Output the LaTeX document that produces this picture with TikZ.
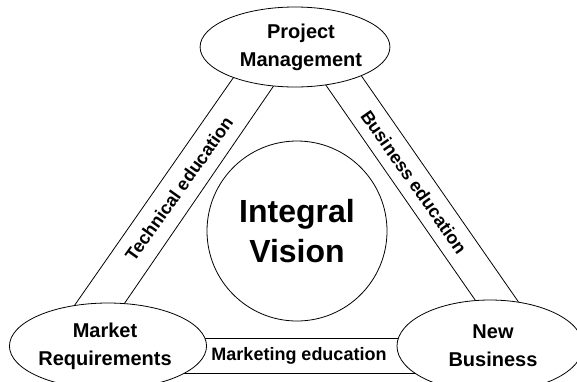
\documentclass[tikz,border=0pt]{standalone}
\usepackage{fontspec}
\setmainfont{Liberation Sans}
\usetikzlibrary{shapes.geometric}
\begin{document}
\begin{tikzpicture}[x=1pt,y=-1pt,
  oval/.style={draw,ellipse,fill=white,line width=0.8pt,inner sep=0pt,align=center,
    font=\bfseries\fontsize{20}{28}\selectfont},
  hub/.style={draw,circle,fill=white,line width=0.8pt,inner sep=0pt,align=center,
    minimum size=180pt,font=\bfseries\fontsize{32}{40}\selectfont},
  band/.style={line width=0.8pt},
  lab/.style={inner sep=0pt,font=\bfseries\fontsize{18}{20}\selectfont}]
\useasboundingbox[fill=white] (0,0) rectangle (577,381);
% band end points
\coordinate (lo1) at (238,71);   \coordinate (lo2) at (72,309);
\coordinate (li1) at (277,81);   \coordinate (li2) at (122,307);
\coordinate (ri1) at (323,81);   \coordinate (ri2) at (480,307);
\coordinate (ro1) at (358,71);   \coordinate (ro2) at (522,307);
\coordinate (bt1) at (180,338);  \coordinate (bt2) at (420,338);
\coordinate (bb1) at (160,373);  \coordinate (bb2) at (440,373);
\draw[band] (lo1) -- (lo2);
\draw[band] (li1) -- (li2);
\draw[band] (ri1) -- (ri2);
\draw[band] (ro1) -- (ro2);
\draw[band] (bt1) -- (bt2);
\draw[band] (bb1) -- (bb2);
% nodes
\node[oval,minimum width=166pt,minimum height=80pt] (pm) at (295,47)
  {\hspace*{12pt}Project\\\hspace*{12pt}Management};
\node[oval,minimum width=192pt,minimum height=86pt] (mr) at (108,346)
  {Market\hspace*{6pt}\\Requirements\hspace*{6pt}};
\node[oval,minimum width=186pt,minimum height=92pt] (nb) at (490,346)
  {\hspace*{6pt}New\\\hspace*{6pt}Business};
\node[hub] (iv) at (297,231) {Integral\\Vision};
% labels
\node[lab,rotate=54.5] (te) at (179,189) {Technical education};
\node[lab,rotate=-55] (be) at (414,182) {Business education};
\node[lab] (me) at (299,356) {Marketing education};
\end{tikzpicture}
\end{document}
